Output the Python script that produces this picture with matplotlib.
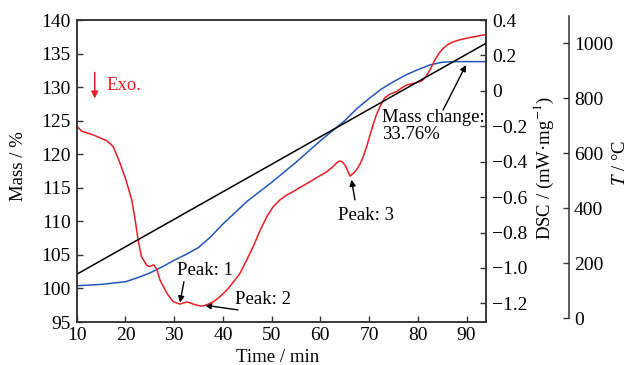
import matplotlib
matplotlib.use("Agg")
import matplotlib.pyplot as plt

plt.rcParams['font.family'] = ['Liberation Serif', 'DejaVu Serif']
plt.rcParams['mathtext.fontset'] = 'stix'
plt.rcParams['font.size'] = 13.5

# time axis (min)
time_dsc = [10, 11.0, 13.4, 16.2, 17.5, 18.9, 20.1, 21.3, 22.0, 22.6, 23.3, 24.4,
            25.0, 25.8, 26.4, 27.1, 28.5, 29.8, 31.2, 32.0, 32.6, 33.3, 33.9, 34.8,
            35.6, 36.3, 37.0, 38.0, 38.7, 39.8, 40.8, 42.0, 43.5, 44.8, 46.2, 47.6,
            49.0, 50.3, 51.7, 53.0, 54.4, 56.5, 58.5, 60.0, 61.3, 62.6, 63.4, 64.0,
            64.6, 65.2, 65.7, 66.1, 66.7, 67.4, 68.1, 68.8, 69.5, 70.2, 70.9, 71.5,
            72.3, 73.2, 74.3, 75.6, 76.6, 77.7, 79.4, 80.8, 81.5, 82.1, 82.8, 83.5,
            84.3, 85.2, 86.2, 87.3, 88.6, 90.0, 92.0, 94.0]
# DSC signal (mW/mg)
dsc = [-0.199, -0.227, -0.249, -0.282, -0.315, -0.409, -0.503, -0.616, -0.729, -0.842,
       -0.937, -0.985, -0.992, -0.982, -1.005, -1.068, -1.143, -1.190, -1.204, -1.197,
       -1.192, -1.197, -1.204, -1.211, -1.215, -1.212, -1.204, -1.192, -1.177, -1.152,
       -1.125, -1.085, -1.030, -0.960, -0.880, -0.790, -0.711, -0.655, -0.616, -0.590,
       -0.569, -0.535, -0.503, -0.478, -0.457, -0.428, -0.405, -0.396, -0.403, -0.425,
       -0.458, -0.481, -0.468, -0.447, -0.415, -0.372, -0.315, -0.249, -0.185, -0.136,
       -0.085, -0.040, -0.018, -0.005, 0.015, 0.033, 0.044, 0.056, 0.075, 0.099,
       0.135, 0.174, 0.210, 0.240, 0.262, 0.277, 0.288, 0.297, 0.308, 0.318]

# mass (%)
time_mass = [10, 15, 20, 22.5, 25, 27.5, 30, 32.5, 35, 37.5, 40, 42.5, 45, 47.5, 50,
             52.5, 55, 57.5, 60, 62.5, 65, 67.5, 70, 72.5, 75, 77.5, 80, 82.5, 85,
             87.5, 90, 94]
mass = [100.4, 100.6, 101.0, 101.6, 102.3, 103.2, 104.2, 105.1, 106.1, 107.7, 109.6,
        111.3, 113.0, 114.4, 115.8, 117.3, 118.8, 120.4, 122.0, 123.5, 125.0, 126.8,
        128.3, 129.7, 130.8, 131.8, 132.6, 133.3, 133.7, 133.8, 133.8, 133.8]

# temperature program (°C)
time_temp = [10, 94]
temp = [160, 1000]

mass_ticks = [95, 100, 105, 110, 115, 120, 125, 130, 135, 140]
dsc_ticks = [0.4, 0.2, 0, -0.2, -0.4, -0.6, -0.8, -1.0, -1.2]
dsc_labels = ['0.4', '0.2', '0', '\u22120.2', '\u22120.4', '\u22120.6', '\u22120.8', '\u22121.0', '\u22121.2']
temp_ticks = [0, 200, 400, 600, 800, 1000]
time_ticks = [10, 20, 30, 40, 50, 60, 70, 80, 90]

red = '#e41e26'
blue = '#2456b4'
spine_col = '#333333'

fig = plt.figure(figsize=(6.32, 3.65), dpi=100)
ax = fig.add_axes([0.1214, 0.1178, 0.6476, 0.8274])
ax2 = ax.twinx()
ax3 = ax.twinx()

ax.plot(time_mass, mass, color=blue, lw=1.1, zorder=3)
ax2.plot(time_dsc, dsc, color=red, lw=1.1)
ax3.plot(time_temp, temp, color='black', lw=1.1)

ax.set_xlim(10, 94)
ax.set_ylim(95, 140)
ax2.set_ylim(-1.305, 0.4)
ax3.set_ylim(-13.5, 1084.7)

ax.set_xticks(time_ticks)
ax.set_yticks(mass_ticks)
ax2.set_yticks(dsc_ticks)
ax2.set_yticklabels(dsc_labels)
ax3.set_yticks(temp_ticks)

for a in (ax, ax2, ax3):
    for s in a.spines.values():
        s.set_color(spine_col)
        s.set_linewidth(1.1)
    a.tick_params(direction='in', length=4, width=1.0, color=spine_col, labelsize=14)
ax.tick_params(axis='y', pad=4.5)
ax.tick_params(axis='x', pad=3.5)
ax2.tick_params(axis='y', pad=4.5)
ax3.tick_params(axis='y', pad=3.5)

ax3.spines['right'].set_position(('axes', 1.2028))
ax3.spines['right'].set_bounds(0, 1100)
for side in ('left', 'top', 'bottom'):
    ax3.spines[side].set_visible(False)

ax.set_xlabel('Time / min', va='center')
ax.xaxis.set_label_coords(0.491, -0.116)
ax.set_ylabel('Mass / %', va='center')
ax.yaxis.set_label_coords(-0.142, 0.516)
ax2.set_ylabel('DSC / (mW\u00b7mg$^{-1}$)', va='center')
ax2.yaxis.set_label_coords(1.141, 0.51)
ax3.set_ylabel('$T$ / \u00b0C', va='center')
ax3.yaxis.set_label_coords(1.329, 0.527)

# annotations (in mass-axis data coordinates)
ax.annotate('', xy=(13.7, 127.9), xytext=(13.7, 132.6),
            arrowprops=dict(arrowstyle='-|>', color=red, lw=1.1, mutation_scale=10))
ax.text(16.0, 130.3, 'Exo.', color=red, va='center', ha='left')

arrow_k = dict(arrowstyle='-|>', color='black', lw=1.0, mutation_scale=9,
               shrinkA=0, shrinkB=0)
ax.annotate('', xy=(31.2, 97.9), xytext=(32.0, 101.0), arrowprops=arrow_k)
ax.text(30.5, 102.6, 'Peak: 1', va='center', ha='left')
ax.annotate('', xy=(36.3, 97.5), xytext=(43.1, 96.8), arrowprops=arrow_k)
ax.text(42.5, 98.3, 'Peak: 2', va='center', ha='left')
ax.annotate('', xy=(66.4, 116.2), xytext=(67.1, 113.2), arrowprops=arrow_k)
ax.text(63.6, 110.9, 'Peak: 3', va='center', ha='left')
ax.annotate('', xy=(89.9, 133.3), xytext=(85.2, 126.6), arrowprops=arrow_k)
ax.text(72.6, 124.2, 'Mass change:\n33.76%', va='center', ha='left', linespacing=0.95)

fig.savefig('out.png', dpi=100)
